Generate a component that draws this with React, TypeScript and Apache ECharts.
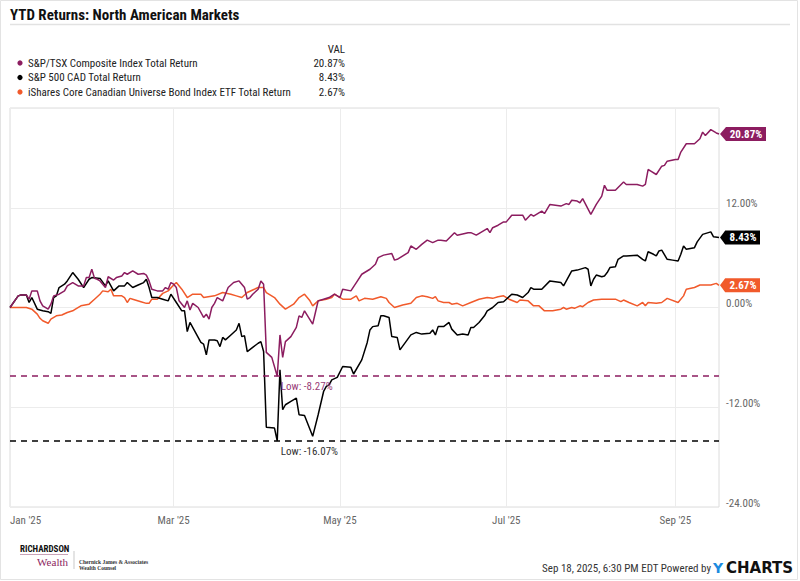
import React, { useEffect, useRef } from "react";
import * as echarts from "echarts";

// Days since 2024-12-31, YTD total return in %
const tsxReturn: [number, number][] = [
  [0,0],[3,1.4],[4,1.5],[6,1.5],[7,1.0],[8,2.0],[10,2.0],[11,0.8],[12,0.2],[14,-0.2],[15,0.4],[16,1.4],[18,1.6],[20,2.0],[21,2.6],[23,3.0],[25,2.6],[27,2.6],[28,3.6],[29,3.6],[30,4.6],[31,3.5],[32,3.4],[33,3.2],[35,2.4],[36,3.7],[38,3.3],[39,3.6],[41,3.8],[42,4.2],[43,4.0],[45,4.4],[47,4.0],[49,4.1],[50,3.9],[51,3.2],[52,2.2],[54,2.0],[56,2.0],[57,2.4],[58,2.2],[59,3.0],[60,2.8],[61,2.4],[62,0.8],[64,0.0],[65,0.8],[66,-0.3],[67,0.5],[69,0.0],[71,-1.2],[72,-0.8],[73,-1.4],[74,0.0],[75,0.5],[76,1.2],[78,0.8],[79,1.6],[80,2.4],[82,3.0],[84,3.2],[85,2.8],[86,2.4],[87,1.0],[88,1.2],[89,1.6],[91,2.2],[92,3.2],[93,2.8],[94,-5.4],[96,-6.0],[98,-8.27],[99,-3.3],[100,-6.0],[101,-4.1],[103,-3.5],[105,-2.4],[106,-1.0],[107,-1.2],[108,-0.4],[111,-2.0],[112,-0.6],[113,0.8],[115,1.0],[117,1.2],[119,1.6],[121,1.2],[122,2.2],[125,2.0],[127,3.0],[129,4.0],[132,4.6],[134,5.2],[135,6.0],[137,6.3],[140,6.5],[141,5.7],[142,5.8],[146,6.6],[147,7.4],[149,7.0],[151,7.6],[153,8.1],[155,7.8],[157,8.1],[158,8.1],[160,8.0],[163,9.0],[164,8.7],[168,9.0],[169,9.0],[171,8.7],[173,9.1],[175,9.5],[176,9.0],[177,9.6],[179,9.9],[181,10.3],[182,10.3],[184,11.1],[188,11.1],[189,10.5],[191,11.2],[192,11.0],[195,11.6],[196,11.3],[198,12.4],[200,12.3],[202,12.2],[204,12.5],[205,12.4],[206,12.9],[208,12.8],[209,12.6],[210,13.1],[213,11.2],[215,12.4],[217,13.4],[218,14.7],[219,14.1],[222,14.1],[225,15.1],[226,14.8],[230,14.8],[232,14.6],[233,14.8],[234,16.6],[235,16.4],[237,16.0],[239,17.0],[240,17.1],[241,17.6],[244,17.8],[245,17.8],[246,18.7],[248,19.7],[251,19.7],[253,20.3],[254,21.1],[255,20.7],[257,21.4],[259,21.0],[260,20.87]
];

const sp500CadReturn: [number, number][] = [
  [0,0],[3,1.4],[4,1.5],[6,1.5],[7,0.6],[8,1.2],[10,-0.2],[12,-0.4],[14,-0.5],[15,-0.7],[16,1.2],[17,1.4],[18,2.4],[20,2.8],[21,3.2],[23,4.2],[25,3.4],[27,2.4],[29,3.4],[30,3.6],[33,3.5],[35,2.6],[36,3.2],[38,2.0],[40,2.6],[42,2.6],[43,3.0],[45,2.4],[47,2.7],[49,3.0],[50,3.4],[51,2.4],[52,1.2],[54,1.2],[56,1.0],[58,0.8],[59,1.6],[61,0.6],[63,-0.4],[64,-0.4],[65,-2.9],[66,-1.8],[68,-3.0],[70,-4.2],[71,-4.4],[72,-5.7],[73,-3.9],[75,-3.9],[76,-4.0],[77,-4.7],[78,-3.6],[79,-3.9],[81,-3.3],[83,-2.7],[84,-1.9],[85,-3.5],[86,-3.4],[87,-5.3],[89,-4.8],[91,-4.3],[92,-4.1],[93,-5.3],[94,-14.4],[97,-14.5],[98,-16.07],[99,-7.5],[100,-12.3],[101,-11.7],[103,-11.3],[105,-10.9],[106,-12.9],[108,-13.0],[111,-15.5],[113,-12.9],[115,-10.1],[116,-9.5],[117,-9.3],[118,-8.7],[120,-8.4],[122,-7.1],[125,-7.2],[126,-8.0],[129,-6.3],[131,-4.2],[132,-2.7],[133,-2.3],[135,-2.2],[136,-1.0],[137,-1.0],[139,-1.2],[140,-3.5],[142,-3.6],[143,-5.1],[145,-4.2],[147,-3.3],[149,-3.0],[151,-3.2],[154,-3.1],[155,-2.7],[156,-3.3],[157,-2.3],[159,-2.3],[161,-1.8],[162,-2.6],[164,-3.3],[166,-3.2],[168,-3.3],[169,-2.4],[170,-2.4],[172,-1.8],[174,-1.0],[175,-0.4],[177,0.0],[179,0.6],[181,0.7],[182,1.0],[184,1.6],[186,1.5],[188,1.2],[190,1.8],[191,2.4],[192,2.2],[195,2.2],[198,3.2],[202,3.0],[203,2.6],[204,3.2],[206,4.4],[208,4.5],[211,4.8],[212,4.6],[213,2.6],[214,3.4],[215,3.9],[217,3.7],[218,3.8],[219,4.2],[220,4.8],[222,4.9],[223,5.8],[225,6.2],[226,6.2],[230,6.3],[232,5.8],[233,5.6],[234,6.7],[236,6.4],[237,6.2],[238,6.8],[239,6.9],[241,5.8],[243,5.7],[245,5.6],[246,6.4],[247,7.4],[248,7.0],[251,7.2],[252,7.9],[254,8.8],[257,9.1],[258,8.5],[260,8.43]
];

const bondEtfReturn: [number, number][] = [
  [0,0],[6,0.0],[8,-0.2],[10,-0.8],[11,-1.3],[12,-1.6],[14,-1.9],[15,-1.4],[17,-1.0],[19,-0.9],[21,-0.6],[23,-0.4],[24,-0.2],[26,0.2],[29,0.4],[31,1.0],[33,1.6],[34,2.0],[36,1.9],[37,2.2],[38,1.4],[41,1.4],[42,1.2],[43,0.6],[44,1.1],[45,1.0],[48,0.7],[50,0.5],[51,0.5],[52,1.0],[54,1.0],[56,1.7],[58,2.0],[60,2.7],[61,3.0],[63,2.2],[65,1.2],[67,1.6],[70,1.6],[71,1.2],[75,1.4],[78,1.8],[81,1.6],[83,1.4],[85,1.2],[87,1.8],[89,2.1],[91,2.4],[93,2.4],[94,1.8],[97,1.2],[99,0.4],[101,-0.2],[104,0.4],[106,1.2],[108,1.6],[110,0.8],[111,0.2],[113,0.8],[116,1.0],[118,1.2],[119,1.6],[122,1.0],[125,1.0],[127,1.4],[128,0.8],[130,1.1],[133,1.0],[136,1.3],[138,1.1],[139,0.6],[141,0.0],[144,0.3],[147,0.5],[149,1.2],[151,1.4],[153,1.3],[155,1.1],[156,1.3],[157,0.8],[159,0.6],[161,0.6],[162,0.4],[164,0.5],[166,0.2],[169,0.6],[172,1.0],[175,1.2],[177,1.1],[179,1.3],[181,1.4],[183,1.0],[186,0.6],[187,0.9],[190,0.8],[192,0.2],[194,0.2],[196,-0.4],[199,-0.4],[202,-0.2],[203,0.0],[204,-0.2],[206,0.0],[207,-0.1],[209,0.2],[210,0.1],[212,0.6],[214,0.9],[217,1.0],[220,1.0],[222,1.0],[224,0.7],[225,0.9],[227,0.6],[230,0.2],[232,0.6],[233,0.2],[234,0.6],[237,0.5],[239,0.6],[241,1.1],[245,0.6],[247,1.4],[248,2.2],[251,2.4],[253,2.7],[255,2.7],[257,2.7],[259,2.9],[260,2.67]
];

const seriesNames = [
  "S&P/TSX Composite Index Total Return",
  "S&P 500 CAD Total Return",
  "iShares Core Canadian Universe Bond Index ETF Total Return",
];
const finalValues = [20.87, 8.43, 2.67];
const lowDays = [98, 98];
const lowValues = [-8.27, -16.07];

const xTickDays = [0, 60, 121, 182, 244];
const xTickLabels = ["Jan '25", "Mar '25", "May '25", "Jul '25", "Sep '25"];
const yTicks = [-24, -12, 0, 12, 24];

const COLORS = ["#8c1d60", "#000000", "#f15a2b"];
const FONT = "'Roboto Condensed', 'Liberation Sans Narrow', 'DejaVu Sans Condensed', Roboto, sans-serif";

export default function App() {
  const ref = useRef<HTMLDivElement>(null);
  useEffect(() => {
    document.body.style.margin = "0";
    if (!ref.current) return;
    const chart = echarts.init(ref.current, null, { renderer: "svg" });

    const endLabel = (i: number, wide: boolean) => ({
      coord: [260, finalValues[i]],
      symbol: "path://M0,7L6,0L46,0L46,14L6,14Z",
      symbolSize: wide ? [46, 14] : [40, 14],
      symbolOffset: wide ? [24, 0] : [21, 0],
      itemStyle: { color: COLORS[i] },
      label: {
        show: true,
        position: "inside",
        offset: [3, 0],
        color: "#fff",
        fontFamily: FONT,
        fontWeight: "bold",
        fontSize: 11,
        formatter: finalValues[i].toFixed(2) + "%",
      },
    });

    const lowLabel = (i: number, color: string) => ({
      coord: [lowDays[i], lowValues[i]],
      symbol: "circle",
      symbolSize: 1,
      itemStyle: { color: "rgba(0,0,0,0)" },
      label: {
        show: true,
        position: "right",
        distance: 0,
        offset: [3, 10],
        color,
        fontFamily: FONT,
        fontSize: 11,
        formatter: "Low: " + lowValues[i].toFixed(2) + "%",
      },
    });

    const lowLine = (i: number) => ({
      silent: true,
      symbol: "none",
      label: { show: false },
      lineStyle: { color: COLORS[i], type: [6, 5], width: 1.5 },
      data: [{ yAxis: lowValues[i] }],
    });

    const legendRows: any[] = [];
    seriesNames.forEach((n, i) => {
      const y = 63 + i * 14.5;
      legendRows.push(
        { type: "circle", shape: { cx: 20, cy: y, r: 2.6 }, style: { fill: COLORS[i] } },
        { type: "text", x: 28, y, style: { text: n, fill: "#222", font: `11px ${FONT}`, verticalAlign: "middle" } },
        { type: "text", x: 345, y, style: { text: finalValues[i].toFixed(2) + "%", fill: "#222", font: `11px ${FONT}`, align: "right", verticalAlign: "middle" } }
      );
    });

    chart.setOption({
      animation: false,
      backgroundColor: "#fff",
      grid: { left: 10, right: 81, top: 108, bottom: 74, show: true, borderColor: "#dcdcdc", borderWidth: 1 },
      xAxis: {
        type: "value",
        min: 0,
        max: 260,
        axisLine: { show: false },
        axisTick: { show: false, customValues: xTickDays },
        splitLine: { show: true, lineStyle: { color: "#ececec" } },
        axisLabel: {
          customValues: xTickDays,
          alignMinLabel: "left",
          margin: 8,
          color: "#666",
          fontFamily: FONT,
          fontSize: 11,
          formatter: (v: number) => xTickLabels[xTickDays.indexOf(v)] ?? "",
        },
      },
      yAxis: {
        type: "value",
        position: "right",
        min: -24,
        max: 24,
        interval: 12,
        axisLine: { show: false },
        axisTick: { show: false },
        splitLine: { show: true, lineStyle: { color: "#ececec" } },
        axisLabel: {
          margin: 7,
          color: "#666",
          fontFamily: FONT,
          fontSize: 11,
          verticalAlign: "bottom",
          lineHeight: 8,
          formatter: (v: number) => (v === yTicks[yTicks.length - 1] ? "" : v.toFixed(2) + "%"),
        },
      },
      series: [
        {
          name: seriesNames[2],
          type: "line",
          data: bondEtfReturn,
          showSymbol: false,
          lineStyle: { color: COLORS[2], width: 1.5 },
          itemStyle: { color: COLORS[2] },
          markPoint: { silent: true, data: [endLabel(2, false)] },
        },
        {
          name: seriesNames[1],
          type: "line",
          data: sp500CadReturn,
          showSymbol: false,
          lineStyle: { color: COLORS[1], width: 1.5 },
          itemStyle: { color: COLORS[1] },
          markLine: lowLine(1),
          markPoint: { silent: true, data: [endLabel(1, false), lowLabel(1, "#333")] },
        },
        {
          name: seriesNames[0],
          type: "line",
          data: tsxReturn,
          showSymbol: false,
          lineStyle: { color: COLORS[0], width: 1.5 },
          itemStyle: { color: COLORS[0] },
          markLine: lowLine(0),
          markPoint: { silent: true, data: [endLabel(0, true), lowLabel(0, "#9a3d77")] },
        },
      ],
      graphic: [
        { type: "rect", shape: { x: 0.5, y: 0.5, width: 797, height: 579 }, style: { fill: "none", stroke: "#e3e3e3", lineWidth: 1 } },
        { type: "text", x: 10, y: 15, style: { text: "YTD Returns: North American Markets", fill: "#111", font: `bold 15px ${FONT}`, verticalAlign: "middle" } },
        { type: "line", shape: { x1: 10, y1: 24.5, x2: 790, y2: 24.5 }, style: { stroke: "#e2e2e2", lineWidth: 1.5 } },
        { type: "text", x: 345, y: 49, style: { text: "VAL", fill: "#222", font: `11px ${FONT}`, align: "right", verticalAlign: "middle" } },
        ...legendRows,
        // footer left logo
        { type: "text", x: 20, y: 549, style: { text: "RICHARDSON", fill: "#111", font: `bold 9px ${FONT}`, verticalAlign: "middle" } },
        { type: "line", shape: { x1: 20, y1: 554.5, x2: 68, y2: 554.5 }, style: { stroke: "#c9a3b8", lineWidth: 1 } },
        { type: "text", x: 68, y: 561.5, style: { text: "Wealth", fill: "#8c1d60", font: `11px 'Liberation Serif', 'DejaVu Serif', serif`, align: "right", verticalAlign: "middle" } },
        { type: "line", shape: { x1: 74, y1: 551, x2: 74, y2: 569 }, style: { stroke: "#bbb", lineWidth: 0.8 } },
        { type: "text", x: 79, y: 562, style: { text: "Chernick James & Associates", fill: "#333", font: `bold 5.5px 'Liberation Serif', serif`, verticalAlign: "middle" } },
        { type: "text", x: 79, y: 568, style: { text: "Wealth Counsel", fill: "#333", font: `bold 5.5px 'Liberation Serif', serif`, verticalAlign: "middle" } },
        // footer right
        { type: "text", x: 711, y: 568, style: { text: "Sep 18, 2025, 6:30 PM EDT Powered by", fill: "#333", font: `11px ${FONT}`, align: "right", verticalAlign: "middle" } },
        { type: "text", x: 713, y: 568, style: { text: "Y", fill: "#1b8be0", font: `bold 14px 'DejaVu Sans', sans-serif`, verticalAlign: "middle" } },
        { type: "text", x: 726, y: 568, style: { text: "CHARTS", fill: "#111", font: `bold 15px 'DejaVu Sans', sans-serif`, verticalAlign: "middle" } },
      ],
    });
    return () => chart.dispose();
  }, []);
  return <div ref={ref} style={{ width: 800, height: 581 }} />;
}
